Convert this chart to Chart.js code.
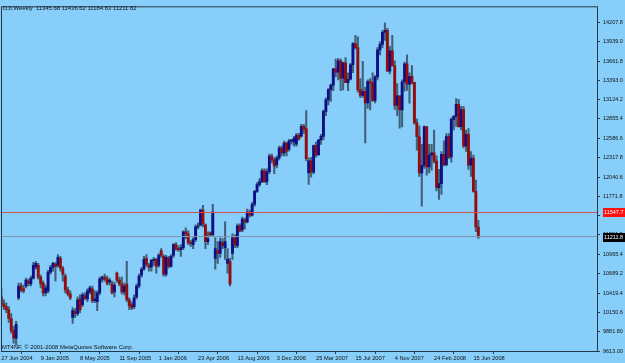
<!DOCTYPE html>
<html><head><meta charset="utf-8">
<script src="https://cdn.jsdelivr.net/npm/chart.js@4/dist/chart.umd.min.js"></script>
<style>html,body{margin:0;padding:0;background:#87cefa;overflow:hidden}canvas{display:block}</style>
</head><body>
<canvas id="c" width="625" height="363"></canvas>
<script>
// Weekly OHLC, DJI (one entry per bar, left to right)
const openP = [
10370,10273,10232,10191,10067,9902,9792,10356,10521,10480,
10521,10590,10549,10631,10783,10810,10645,10562,10425,10452,
10714,10783,10824,10810,10906,10769,10659,10466,10411,10081,
10163,10136,10342,10260,10384,10342,10439,10480,10315,10301,
10425,10617,10645,10617,10576,10549,10439,10700,10604,10549,
10439,10549,10329,10260,10232,10370,10521,10673,10755,10906,
10810,10783,10879,10893,10810,11017,10934,10686,10906,10796,
10948,11099,11044,11030,11058,11278,11250,11127,11099,11168,
11347,11374,11581,11374,11140,11264,11237,10906,11017,10975,
11127,11058,10838,10865,10975,11195,11085,11361,11305,11443,
11416,11553,11512,11663,11842,11938,11980,12131,11980,12117,
12337,12282,12214,12310,12448,12379,12516,12434,12544,12530,
12503,12626,12613,12750,12720,12100,12270,12110,12481,12354,
12560,12612,12961,13120,13264,13327,13556,13507,13668,13424,
13639,13360,13409,13611,13907,13851,13265,13182,13239,13079,
13378,13358,13113,13442,13820,13896,14066,14093,13522,13806,
13595,13042,13176,12980,13371,13625,13339,13450,13365,12800,
12606,12099,12207,12743,12183,12348,12381,12266,11894,11951,
12361,12216,12609,12325,12849,12891,13058,12745,12986,12479,
12638,12209,12307,11842,11345.68];
const highP = [
10480,10329,10287,10232,10136,9957,10026,10562,10562,10535,
10631,10617,10659,10851,10865,10838,10673,10590,10535,10741,
10810,10851,10851,10961,10934,10796,10686,10507,10452,10218,
10205,10370,10397,10425,10425,10480,10521,10521,10452,10452,
10645,10659,10686,10659,10631,10590,10576,10714,10645,10645,
10562,10865,10356,10301,10397,10549,10686,10783,10934,10961,
10838,10893,10920,10906,10975,11044,10961,10948,10934,10961,
11113,11127,11085,11099,11292,11333,11292,11154,11195,11374,
11402,11594,11649,11388,11278,11278,11663,11195,11140,11195,
11182,11416,11044,10906,11250,11237,11388,11388,11484,11471,
11594,11581,11691,11856,11966,12021,12159,12159,12159,12365,
12365,12310,12337,12475,12475,12544,12530,12571,12571,12613,
12654,12654,12778,12778,12970,12310,12320,12490,12530,12570,
12640,12980,13150,13280,13340,13560,13690,13700,13690,13650,
13710,13500,13630,13920,14022,14000,13420,13658,13300,13400,
13420,13500,13460,13850,13930,14090,14198,14121,13870,14021,
13668,13350,13177,13400,13650,13749,13500,13600,13365,12855,
12760,12500,12760,12750,12500,12500,12700,12340,12150,12400,
12550,12650,12650,12870,12900,13140,13130,13030,13030,12700,
12720,12400,12350,12000,11436.62];
const lowP = [
10260,10191,10150,10012,9861,9723,9696,10329,10439,10425,
10494,10521,10521,10617,10755,10617,10494,10384,10384,10425,
10686,10728,10590,10783,10728,10590,10425,10384,10329,9998,
10081,10108,10150,10232,10329,10301,10411,10287,10287,10177,
10397,10576,10590,10535,10535,10411,10370,10576,10521,10411,
10397,10301,10191,10191,10205,10342,10494,10645,10741,10796,
10728,10728,10810,10700,10783,10920,10659,10659,10769,10783,
10920,11017,11003,10934,11030,11182,11099,11072,11044,11140,
11319,11361,11347,11044,11099,11209,11223,10755,10838,10920,
11044,10893,10700,10521,10893,11058,11058,11278,11280,11319,
11402,11484,11498,11636,11828,11911,11966,11966,11938,12090,
12241,12090,12172,12282,12337,12337,12337,12406,12503,12475,
12475,12558,12599,12654,12270,11940,12040,12090,12320,12340,
12500,12560,12900,13050,13100,13250,13440,13400,13250,13260,
13360,13250,13400,13500,13830,13230,13150,13160,12518,13000,
12980,13100,13080,13400,13750,13850,13953,13522,13482,13595,
12987,12900,12724,12743,13243,13253,13075,13340,12782,12420,
12050,11635,12163,12070,12100,12140,12240,11850,11731,11800,
12200,12200,12300,12250,12700,12750,12740,12700,12450,12400,
12150,12050,11830,11280,11184.63];
const closeP = [
10273,10232,10191,10067,9902,9792,9985,10521,10466,10452,
10604,10562,10631,10810,10838,10645,10549,10425,10494,10714,
10783,10838,10796,10920,10769,10686,10466,10411,10356,10177,
10136,10329,10191,10397,10356,10452,10494,10315,10342,10425,
10617,10645,10617,10562,10604,10425,10535,10604,10549,10439,
10521,10329,10246,10218,10356,10521,10659,10755,10893,10824,
10783,10879,10893,10796,10948,10948,10686,10920,10796,10934,
11099,11044,11030,11058,11278,11250,11127,11113,11168,11347,
11361,11581,11388,11140,11182,11237,11553,11044,10975,11140,
11085,11140,10893,10549,11195,11099,11361,11292,11457,11416,
11553,11512,11663,11842,11938,11980,12131,11980,12117,12337,
12282,12200,12310,12448,12379,12516,12406,12544,12558,12585,
12626,12571,12750,12709,12300,12270,12110,12481,12354,12560,
12612,12961,13120,13264,13327,13556,13507,13668,13424,13639,
13360,13409,13611,13907,13851,13265,13182,13239,13079,13378,
13358,13113,13442,13820,13896,14066,14093,13522,13806,13595,
13042,13176,12980,13371,13625,13339,13450,13365,12800,12606,
12099,12207,12743,12183,12348,12381,12266,11894,11951,12361,
12216,12609,12325,12849,12891,13058,12745,12986,12479,12638,
12209,12307,11842,11346,11211.82];

const xTickIndex = [0,16,32,48,64,80,96,112,128,144,160,176,192];
const xTickLabels = ['27 Jun 2004','9 Jan 2005','8 May 2005','11 Sep 2005','1 Jan 2006','23 Apr 2006','13 Aug 2006','3 Dec 2006','25 Mar 2007','15 Jul 2007','4 Nov 2007','24 Feb 2008','15 Jun 2008'];
const yTickValues = [9613.00,9881.80,10150.6,10419.4,10689.2,10965.4,11234.2,11503.0,11771.8,12040.6,12317.8,12586.6,12855.4,13124.2,13393.0,13661.8,13939.0,14207.8];
const yTickLabels = ['9613.00','9881.80','10150.6','10419.4','10689.2','10965.4','11234.2','11503.0','11771.8','12040.6','12317.8','12586.6','12855.4','13124.2','13393.0','13661.8','13939.0','14207.8'];
const symbolName = 'DJI,Weekly';
const copyrightText = 'MT4NF, \u00a9 2001-2008 MetaQuotes Software Corp.';
const levelLine = 11547.7;
const levelLabel = '11547.7';
const bidLine = 11211.82;
const bidLabel = '11211.8';

const X_MIN = -0.15, X_MAX = 242.27, Y_MIN = 9613, Y_MAX = 14428;
const BG = '#87cefa', FRAME = '#24384c', TXT = '#121212';
const FONT = "'Liberation Sans', Arial, sans-serif";
const last = openP.length - 1;

const bgPlugin = {
  id: 'bg',
  beforeDraw(ch) { const c = ch.ctx; c.save(); c.fillStyle = BG; c.fillRect(0,0,ch.width,ch.height); c.restore(); }
};
const decoPlugin = {
  id: 'deco',
  afterDraw(ch) {
    const c = ch.ctx, a = ch.chartArea, ys = ch.scales.y;
    c.save();
    c.strokeStyle = FRAME; c.lineWidth = 1;
    c.strokeRect(a.left + 0.5, a.top + 0.5, a.right - a.left, a.bottom - a.top);
    c.fillStyle = TXT; c.font = '5.9px ' + FONT; c.textBaseline = 'alphabetic'; c.textAlign = 'left';
    const head = symbolName + '  ' + [openP[last], highP[last], lowP[last], closeP[last]].map(v => v.toFixed(2)).join(' ');
    c.fillText(head, 3, 9.5);
    c.fillText(copyrightText, 2, 348.5);
    const tag = (v, txt, bg) => {
      const y = Math.round(ys.getPixelForValue(v));
      c.fillStyle = bg; c.fillRect(603, y - 4, 22, 9);
      c.fillStyle = '#ffffff'; c.font = '5.5px ' + FONT; c.textBaseline = 'middle';
      c.fillText(txt, 604, y + 0.7);
    };
    tag(levelLine, levelLabel, '#ff1010');
    tag(bidLine, bidLabel, '#000000');
    c.restore();
  }
};

new Chart(document.getElementById('c'), {
  type: 'bar',
  data: {
    datasets: [
      { type: 'bar', label: 'wick', data: highP.map((h, i) => ({ x: i, y: [lowP[i], h] })),
        backgroundColor: 'rgba(40,58,76,0.75)', barThickness: 1.4, grouped: false, order: 3, minBarLength: 1, borderWidth: 0 },
      { type: 'bar', label: 'body', data: openP.map((o, i) => ({ x: i, y: [o, closeP[i]] })),
        backgroundColor: openP.map((o, i) => closeP[i] >= o ? '#0e0e86' : '#940c0c'),
        barThickness: 2.2, grouped: false, order: 2, minBarLength: 1, borderWidth: 0 },
      { type: 'line', label: 'level', data: [{ x: X_MIN, y: levelLine }, { x: X_MAX, y: levelLine }],
        borderColor: '#d65050', borderWidth: 1, pointRadius: 0, order: 1 },
      { type: 'line', label: 'bid', data: [{ x: X_MIN, y: bidLine }, { x: X_MAX, y: bidLine }],
        borderColor: '#8494a6', borderWidth: 1, pointRadius: 0, order: 1 }
    ]
  },
  options: {
    responsive: false, animation: false, devicePixelRatio: 1,
    layout: { padding: { left: 1, top: 1, right: 0, bottom: 0 } },
    plugins: { legend: { display: false }, tooltip: { enabled: false } },
    scales: {
      x: {
        type: 'linear', min: X_MIN, max: X_MAX, offset: false,
        afterBuildTicks: s => { s.ticks = xTickIndex.map(v => ({ value: v })); },
        afterFit: s => { s.height = 12; },
        ticks: { autoSkip: false, maxRotation: 0, minRotation: 0, align: 'start', padding: 1,
          color: TXT, font: { family: FONT, size: 5.7 },
          callback: v => xTickLabels[xTickIndex.indexOf(v)] },
        grid: { display: true, drawOnChartArea: false, drawTicks: true, tickLength: 3, color: '#303a44' },
        border: { display: false }
      },
      y: {
        position: 'right', min: Y_MIN, max: Y_MAX,
        afterBuildTicks: s => { s.ticks = yTickValues.map(v => ({ value: v })); },
        afterFit: s => { s.width = 28; },
        ticks: { autoSkip: false, padding: 3, color: TXT, font: { family: FONT, size: 5.5 },
          callback: v => yTickLabels[yTickValues.indexOf(v)] },
        grid: { display: true, drawOnChartArea: false, drawTicks: true, tickLength: 3, color: '#303a44' },
        border: { display: false }
      }
    }
  },
  plugins: [bgPlugin, decoPlugin]
});
</script>
</body></html>
